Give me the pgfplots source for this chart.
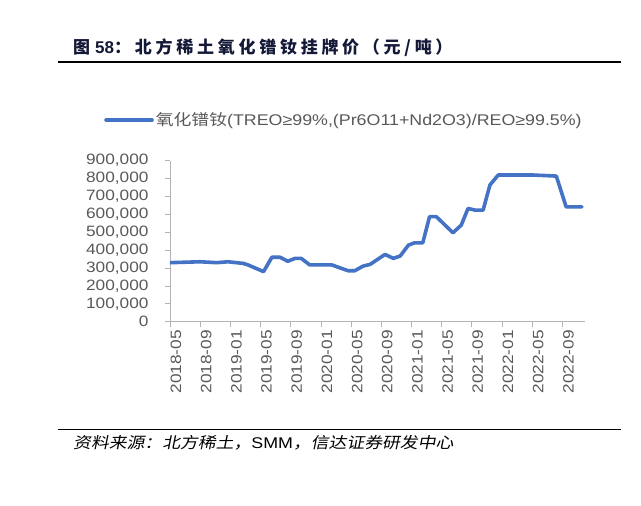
\documentclass[border=0pt]{standalone}
\usepackage{pgfplots}
\pgfplotsset{compat=1.18}
\usepackage{fontspec}
\setmainfont[FakeStretch=1.15]{Liberation Sans}
\newfontfamily\cjk[FakeStretch=1.15]{Noto Sans CJK SC}
\newfontfamily\cjkit[FakeSlant=0.2,FakeStretch=1.15]{Noto Sans CJK SC}
\newfontfamily\cjkt[LetterSpace=22]{Noto Sans CJK SC}
\newfontfamily\arialb{Liberation Sans}
\definecolor{lineblue}{RGB}{68,114,196}
\definecolor{axgray}{RGB}{180,180,180}
\definecolor{txtgray}{RGB}{89,89,89}
\definecolor{titlecol}{RGB}{20,25,55}
\begin{document}
\begin{tikzpicture}
\path[use as bounding box, fill=white] (0pt,0pt) rectangle (641pt,506pt);
% title
\node[anchor=west, inner sep=0pt, text=titlecol] at (73pt,458.3pt)
  {\fontsize{17}{17}\selectfont{\cjkt\bfseries 图}\hspace{5pt}{\arialb\bfseries 58}{\cjkt\bfseries ：北方稀土氧化镨钕挂牌价（元/吨）}};
\draw[line width=1.8pt, black] (58pt,444pt) -- (621pt,444pt);
% source
\draw[line width=1.5pt, black] (58pt,76.7pt) -- (621pt,76.7pt);
\node[anchor=west, inner sep=0pt] at (73pt,63pt)
  {\fontsize{15.5}{15.5}\selectfont{\cjkit 资料来源：北方稀土，}SMM{\cjkit ，信达证券研发中心}};
\begin{axis}[
  at={(170pt,184.3pt)}, anchor=south west,
  scale only axis, width=415pt, height=161pt,
  xmin=0, xmax=55, ymin=0, ymax=900000,
  axis lines*=left,
  axis line style={draw=axgray, line width=0.8pt},
  tick align=outside,
  major tick length=5pt,
  tick style={draw=axgray, line width=0.8pt},
  xtick={0,4,...,52},
  xticklabels={2018-05,2018-09,2019-01,2019-05,2019-09,2020-01,2020-05,2020-09,2021-01,2021-05,2021-09,2022-01,2022-05,2022-09},
  xticklabel style={rotate=90, anchor=east, yshift=-6pt, text=txtgray, font=\fontsize{15}{15}\selectfont},
  ytick={0,100000,...,900000},
  scaled y ticks=false,
  yticklabel style={text=txtgray, xshift=-13pt, font=\fontsize{15}{15}\selectfont,
    /pgf/number format/fixed, /pgf/number format/1000 sep={,}},
  /pgf/number format/assume math mode=true,
  legend style={draw=none, fill=none, at={(-0.159,1.2528)}, anchor=west,
    font=\fontsize{15.5}{15.5}\selectfont, text=txtgray, inner sep=0pt},
  legend cell align=left,
  legend image code/.code={\draw[#1] (0pt,0pt) -- (46pt,0pt);},
]
\addplot[color=lineblue, line width=3.6pt, line join=round, line cap=round] coordinates {
(0,330000) (4,335000) (6.2,330000) (7.7,335000) (9.7,326000) (10.3,318000)
(12.4,280000) (13.5,360000) (14.6,360000) (15.6,338000) (16.6,354000) (17.4,354000)
(18.5,318000) (21.4,318000) (23.6,285000) (24.5,285000) (25.6,311000) (26.5,320000)
(28.5,376000) (29.6,354000) (30.5,367000) (31.6,428000) (32.4,441000) (33.5,441000)
(34.4,587000) (35.3,587000) (37.5,497000) (38.6,540000) (39.5,633000) (40.4,624000)
(41.5,624000) (42.4,764000) (43.5,820000) (48.1,820000) (51.2,814000) (52.5,642000)
(54.6,642000)
};
\addlegendentry{{\cjk 氧化镨钕}(TREO≥99\%,(Pr6O11+Nd2O3)/REO≥99.5\%)}
\end{axis}
\end{tikzpicture}
\end{document}
